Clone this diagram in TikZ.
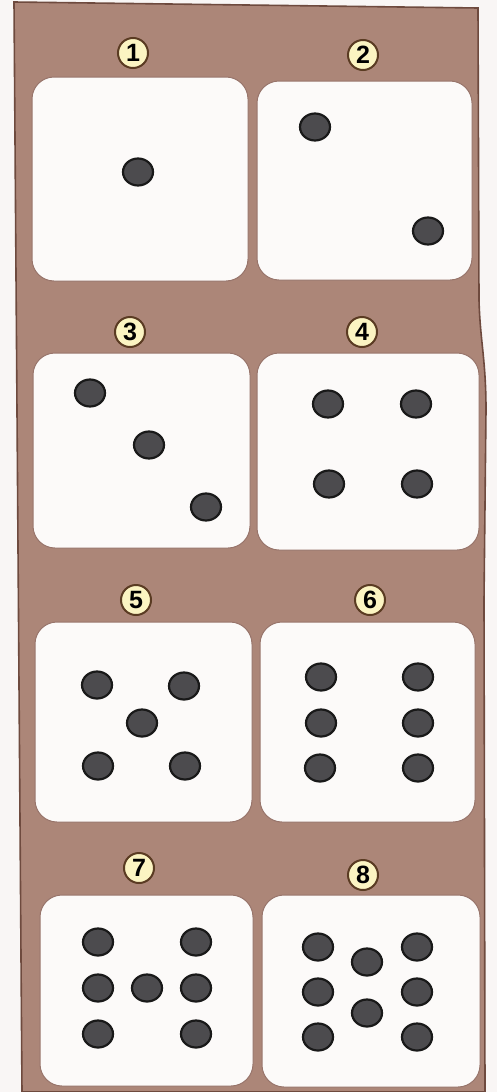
\documentclass[tikz,border=0pt]{standalone}
\usepackage{fontspec}
\setmainfont{Liberation Sans}
\definecolor{board}{HTML}{AC8678}
\definecolor{boardedge}{HTML}{6E4A3E}
\definecolor{diefill}{HTML}{FCFAF9}
\definecolor{dieedge}{HTML}{97746A}
\definecolor{pipfill}{HTML}{4C4B4E}
\definecolor{badgefill}{HTML}{FBF4C2}
\definecolor{badgeedge}{HTML}{5A3B22}
\definecolor{paper}{HTML}{F9F6F5}
\tikzset{
  diebox/.style={fill=diefill, draw=dieedge, line width=0.5pt, rounded corners=11pt},
  pipst/.style={fill=pipfill, draw=black!90, line width=1.1pt},
  badge/.style={circle, fill=badgefill, draw=badgeedge, line width=1pt,
    minimum size=15pt, inner sep=0pt,
    font=\fontsize{12.5}{12.5}\selectfont\bfseries}
}
\newcommand\dpip[2]{\draw[pipst] (#1,#2) ellipse [x radius=15, y radius=13.5];}
\begin{document}
\begin{tikzpicture}[x=0.5pt,y=-0.5pt]
\useasboundingbox (0,0) rectangle (497,1092);
\fill[paper] (0,0) rectangle (497,1092);
% board
\draw[fill=board, draw=boardedge, line width=0.8pt]
  (14,2) -- (478,8) -- (479,300)
  .. controls (480,340) and (486,360) .. (486,410)
  -- (484,600) -- (485,1092) -- (22,1092) -- cycle;
% dice
\draw[diebox] (32,77) rectangle (248,281);
\draw[diebox] (257,81) rectangle (472,280);
\draw[diebox] (33,353) rectangle (250,548);
\draw[diebox] (257,353) rectangle (479,550);
\draw[diebox] (35,622) rectangle (252,822);
\draw[diebox] (260,622) rectangle (475,822);
\draw[diebox] (40,895) rectangle (253,1086);
\draw[diebox] (262,895) rectangle (480,1087);
% badges
\node[badge] (b1) at (133,53) {1};
\node[badge] (b2) at (363,55) {2};
\node[badge] (b3) at (130,332) {3};
\node[badge] (b4) at (362,332) {4};
\node[badge] (b5) at (136,600) {5};
\node[badge] (b6) at (370,600) {6};
\node[badge] (b7) at (139,868) {7};
\node[badge] (b8) at (363,875) {8};
% pips die 1
\dpip{138}{172}
% die 2
\dpip{315}{127}
\dpip{428}{231}
% die 3
\dpip{90}{393}
\dpip{149}{445}
\dpip{206}{507}
% die 4
\dpip{328}{404}
\dpip{416}{404}
\dpip{329}{484}
\dpip{417}{484}
% die 5
\dpip{97}{685}
\dpip{184}{686}
\dpip{142}{723}
\dpip{98}{766}
\dpip{185}{766}
% die 6
\dpip{321}{677}
\dpip{418}{677}
\dpip{321}{723}
\dpip{418}{723}
\dpip{320}{768}
\dpip{418}{768}
% die 7
\dpip{98}{942}
\dpip{196}{942}
\dpip{98}{988}
\dpip{147}{988}
\dpip{196}{988}
\dpip{98}{1034}
\dpip{196}{1034}
% die 8
\dpip{318}{947}
\dpip{367}{962}
\dpip{417}{947}
\dpip{318}{992}
\dpip{417}{992}
\dpip{367}{1013}
\dpip{318}{1037}
\dpip{417}{1037}
\end{tikzpicture}
\end{document}
